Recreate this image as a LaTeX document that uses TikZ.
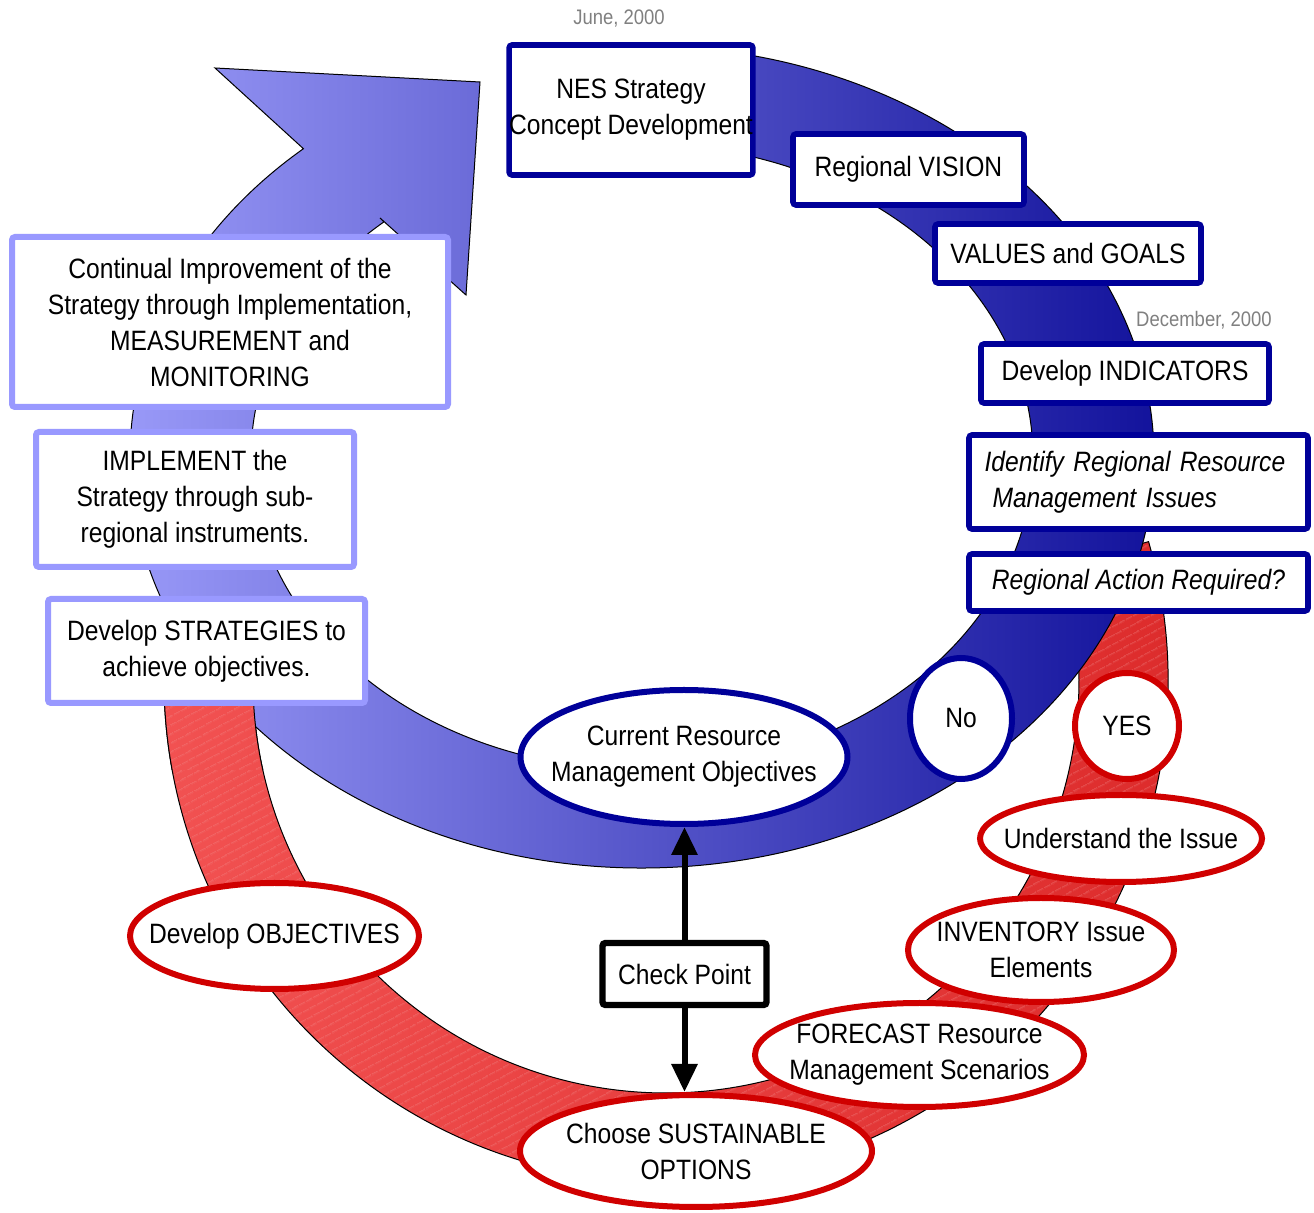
\documentclass[tikz,border=0pt]{standalone}
\usepackage{fontspec}
\setmainfont{Liberation Sans}[FakeStretch=0.88]
\usetikzlibrary{arrows.meta,patterns.meta,shapes.geometric,calc}
\definecolor{navy}{HTML}{000099}
\definecolor{lav}{HTML}{9999FF}
\definecolor{rbord}{HTML}{D00000}
\definecolor{blueL}{HTML}{9A9AF8}
\definecolor{blueD}{HTML}{10109A}
\definecolor{redL}{HTML}{F25252}
\definecolor{redD}{HTML}{D01212}
\definecolor{redM}{HTML}{DC2A2A}
\definecolor{hatch}{HTML}{F08080}
\definecolor{datec}{HTML}{808080}
\begin{document}
\begin{tikzpicture}[x=0.5pt,y=0.5pt,
  every node/.style={font=\fontsize{14}{18}\selectfont},
  bbox/.style={draw=navy, line width=2.8pt, fill=white, rounded corners=1.5pt, inner sep=0pt, align=center},
  lbox/.style={draw=lav, line width=3pt, fill=white, rounded corners=1.5pt, inner sep=0pt, align=center},
  rell/.style={ellipse, draw=rbord, line width=3pt, fill=white, inner sep=0pt},
  bell/.style={ellipse, draw=navy, line width=3pt, fill=white, inner sep=0pt},
  datetxt/.style={text=datec, font=\fontsize{10.5}{12}\selectfont, inner sep=0pt},
  band/.style={draw=black, line width=0.5pt},
  redshade/.style={left color=redL, middle color=redD, right color=redM},
  redhatch/.style={pattern={Lines[angle=28,distance=4pt,line width=0.25pt]}, pattern color=hatch},
  redp/.style={insert path={($(rc)+(16:502)$) arc[start angle=16,end angle=-185,radius=502] -- ($(rc)+(-185:413)$) arc[start angle=-185,end angle=16,radius=413] -- cycle}},
  dbl/.style={line width=3pt, -{Triangle[width=12.5pt,length=14pt]}}
]
\useasboundingbox (0,0) rectangle (1314,-1213);
\coordinate (bc) at (642,-457);
\coordinate (rc) at (666,-680);
% red band (behind blue on the right)
\path[redshade, redp];
\path[redhatch, redp];
\draw[band, redp];
% blue circular arrow
\draw[band, left color=blueL, right color=blueD]
  ($(bc)+(95:512 and 411)$) arc[start angle=95, end angle=-228.6, x radius=512, y radius=411]
  -- (215,-68) -- (480,-82) -- (466,-295) -- (380,-218)
  -- ($(bc)+(-228.7:391 and 313)$) arc[start angle=-228.7, end angle=95, x radius=391, y radius=313] -- cycle;
% red band on top of blue on the left
\begin{scope}
  \clip (140,-640) rectangle (320,-770);
  \path[redshade, redp];
  \path[redhatch, redp];
  \draw[band, redp];
\end{scope}
% dates
\node[datetxt] (june) at (619,-19) {June, 2000};
\node[datetxt] (dec) at (1204,-320) {December, 2000};
% blue boxes
\node[bbox, minimum width=121pt, minimum height=65pt] (nes) at (631,-110) {NES Strategy\\Concept Development};
\node[bbox, minimum width=115.5pt, minimum height=35.5pt] (vision) at (908.5,-169.5) {Regional VISION};
\node[bbox, minimum width=133pt, minimum height=29.5pt] (values) at (1068,-253.5) {VALUES and GOALS};
\node[bbox, minimum width=144pt, minimum height=29.5pt] (ind) at (1125,-373.5) {Develop INDICATORS};
\node[bbox, minimum width=169.5pt, minimum height=47pt, align=left, text width=154pt] (ident) at (1138.5,-482) {\itshape Identify Regional Resource\\\itshape\hspace*{4pt}Management Issues};
\node[bbox, minimum width=169.5pt, minimum height=28.5pt] (action) at (1138.5,-582.5) {\itshape Regional Action Required?};
% decision circles
\node[bell, minimum width=51pt, minimum height=60.5pt] (no) at (961,-718.5) {No};
\node[rell, minimum width=52pt, minimum height=53pt] (yes) at (1127,-726) {YES};
% red ellipses
\node[rell, minimum width=141pt, minimum height=43.5pt, label={center:Understand the Issue}] (und) at (1121,-838.5) {};
\node[rell, minimum width=133pt, minimum height=52pt, label={[align=center]center:INVENTORY Issue\\Elements}] (inv) at (1041,-950) {};
\node[rell, minimum width=164.5pt, minimum height=52pt, label={[align=center]center:FORECAST Resource\\Management Scenarios}] (fore) at (919.5,-1055) {};
\node[rell, minimum width=176pt, minimum height=56pt, label={[align=center]center:Choose SUSTAINABLE\\OPTIONS}] (choose) at (696,-1151) {};
\node[rell, minimum width=144.5pt, minimum height=53pt, label={center:Develop OBJECTIVES}] (obj) at (274.5,-936) {};
% current objectives
\node[bell, minimum width=163.5pt, minimum height=67pt, label={[align=center]center:Current Resource\\Management Objectives}] (cur) at (684,-757) {};
% check point
\node[draw=black, line width=3.2pt, fill=white, rounded corners=1.5pt, inner sep=0pt, minimum width=82pt, minimum height=31pt] (cp) at (684.5,-974) {Check Point};
\draw[dbl] (cp.north) -- (cp.north |- cur.south);
\draw[dbl] (cp.south) -- (cp.south |- choose.north);
% lavender boxes
\node[lbox, minimum width=158.5pt, minimum height=52pt] (strat) at (206.5,-651) {Develop STRATEGIES to\\achieve objectives.};
\node[lbox, minimum width=159pt, minimum height=67.5pt] (impl) at (195,-499.5) {IMPLEMENT the\\Strategy through sub-\\regional instruments.};
\node[lbox, minimum width=218pt, minimum height=85pt] (cont) at (230,-322) {Continual Improvement of the\\Strategy through Implementation,\\MEASUREMENT and\\MONITORING};
\end{tikzpicture}
\end{document}
